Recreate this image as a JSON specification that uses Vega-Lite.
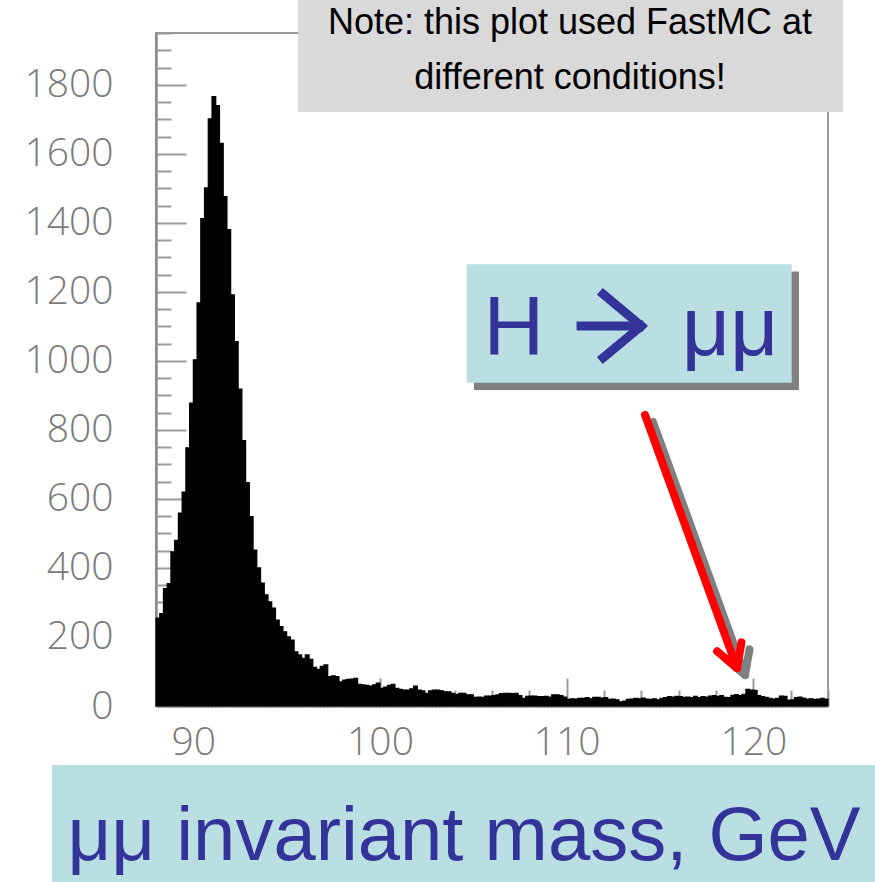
{
"$schema": "https://vega.github.io/schema/vega-lite/v6.json",
"autosize": "none",
"width": 672,
"height": 673,
"padding": {"left": 156, "top": 33, "right": 47, "bottom": 176},
"background": "white",
"config": {
  "view": {"stroke": "#9a9a9a", "strokeWidth": 2},
  "axis": {"domainColor": "#8a8a8a", "domainWidth": 2.5, "tickColor": "#9a9a9a", "tickWidth": 2, "labelColor": "#7a7a7a", "labelFont": "Open Sans", "labelFontWeight": 300, "labelFontSize": 39, "grid": false, "labelFlush": false, "labelOverlap": false, "zindex": 1, "format": "d"}
},
"data": {"values": [
{"lo":88.0,"hi":88.2,"n":255},{"lo":88.2,"hi":88.4,"n":268},{"lo":88.4,"hi":88.6,"n":340},{"lo":88.6,"hi":88.8,"n":355},{"lo":88.8,"hi":89.0,"n":447},{"lo":89.0,"hi":89.2,"n":480},{"lo":89.2,"hi":89.4,"n":559},{"lo":89.4,"hi":89.6,"n":620},{"lo":89.6,"hi":89.8,"n":748},{"lo":89.8,"hi":90.0,"n":878},
{"lo":90.0,"hi":90.2,"n":1003},{"lo":90.2,"hi":90.4,"n":1168},{"lo":90.4,"hi":90.6,"n":1412},{"lo":90.6,"hi":90.8,"n":1501},{"lo":90.8,"hi":91.0,"n":1701},{"lo":91.0,"hi":91.2,"n":1766},{"lo":91.2,"hi":91.4,"n":1740},{"lo":91.4,"hi":91.6,"n":1630},{"lo":91.6,"hi":91.8,"n":1476},{"lo":91.8,"hi":92.0,"n":1380},
{"lo":92.0,"hi":92.2,"n":1191},{"lo":92.2,"hi":92.4,"n":1056},{"lo":92.4,"hi":92.6,"n":918},{"lo":92.6,"hi":92.8,"n":769},{"lo":92.8,"hi":93.0,"n":647},{"lo":93.0,"hi":93.2,"n":549},{"lo":93.2,"hi":93.4,"n":452},{"lo":93.4,"hi":93.6,"n":400},{"lo":93.6,"hi":93.8,"n":356},{"lo":93.8,"hi":94.0,"n":322},
{"lo":94.0,"hi":94.2,"n":302},{"lo":94.2,"hi":94.4,"n":284},{"lo":94.4,"hi":94.6,"n":249},{"lo":94.6,"hi":94.8,"n":230},{"lo":94.8,"hi":95.0,"n":215},{"lo":95.0,"hi":95.2,"n":200},{"lo":95.2,"hi":95.4,"n":191},{"lo":95.4,"hi":95.6,"n":157},{"lo":95.6,"hi":95.8,"n":148},{"lo":95.8,"hi":96.0,"n":138},
{"lo":96.0,"hi":96.2,"n":148},{"lo":96.2,"hi":96.4,"n":135},{"lo":96.4,"hi":96.6,"n":112},{"lo":96.6,"hi":96.8,"n":106},{"lo":96.8,"hi":97.0,"n":115},{"lo":97.0,"hi":97.2,"n":119},{"lo":97.2,"hi":97.4,"n":85},{"lo":97.4,"hi":97.6,"n":87},{"lo":97.6,"hi":97.8,"n":85},{"lo":97.8,"hi":98.0,"n":70},
{"lo":98.0,"hi":98.2,"n":75},{"lo":98.2,"hi":98.4,"n":77},{"lo":98.4,"hi":98.6,"n":78},{"lo":98.6,"hi":98.8,"n":80},{"lo":98.8,"hi":99.0,"n":63},{"lo":99.0,"hi":99.2,"n":61},{"lo":99.2,"hi":99.4,"n":60},{"lo":99.4,"hi":99.6,"n":58},{"lo":99.6,"hi":99.8,"n":61},{"lo":99.8,"hi":100.0,"n":66},
{"lo":100.0,"hi":100.2,"n":51},{"lo":100.2,"hi":100.4,"n":55},{"lo":100.4,"hi":100.6,"n":60},{"lo":100.6,"hi":100.8,"n":63},{"lo":100.8,"hi":101.0,"n":51},{"lo":101.0,"hi":101.2,"n":48},{"lo":101.2,"hi":101.4,"n":46},{"lo":101.4,"hi":101.6,"n":46},{"lo":101.6,"hi":101.8,"n":50},{"lo":101.8,"hi":102.0,"n":58},
{"lo":102.0,"hi":102.2,"n":46},{"lo":102.2,"hi":102.4,"n":44},{"lo":102.4,"hi":102.6,"n":37},{"lo":102.6,"hi":102.8,"n":44},{"lo":102.8,"hi":103.0,"n":46},{"lo":103.0,"hi":103.2,"n":46},{"lo":103.2,"hi":103.4,"n":44},{"lo":103.4,"hi":103.6,"n":41},{"lo":103.6,"hi":103.8,"n":41},{"lo":103.8,"hi":104.0,"n":37},
{"lo":104.0,"hi":104.2,"n":33},{"lo":104.2,"hi":104.4,"n":37},{"lo":104.4,"hi":104.6,"n":37},{"lo":104.6,"hi":104.8,"n":32},{"lo":104.8,"hi":105.0,"n":32},{"lo":105.0,"hi":105.2,"n":25},{"lo":105.2,"hi":105.4,"n":26},{"lo":105.4,"hi":105.6,"n":25},{"lo":105.6,"hi":105.8,"n":29},{"lo":105.8,"hi":106.0,"n":29},
{"lo":106.0,"hi":106.2,"n":30},{"lo":106.2,"hi":106.4,"n":32},{"lo":106.4,"hi":106.6,"n":36},{"lo":106.6,"hi":106.8,"n":37},{"lo":106.8,"hi":107.0,"n":37},{"lo":107.0,"hi":107.2,"n":36},{"lo":107.2,"hi":107.4,"n":37},{"lo":107.4,"hi":107.6,"n":30},{"lo":107.6,"hi":107.8,"n":22},{"lo":107.8,"hi":108.0,"n":28},
{"lo":108.0,"hi":108.2,"n":29},{"lo":108.2,"hi":108.4,"n":29},{"lo":108.4,"hi":108.6,"n":27},{"lo":108.6,"hi":108.8,"n":27},{"lo":108.8,"hi":109.0,"n":28},{"lo":109.0,"hi":109.2,"n":26},{"lo":109.2,"hi":109.4,"n":32},{"lo":109.4,"hi":109.6,"n":32},{"lo":109.6,"hi":109.8,"n":30},{"lo":109.8,"hi":110.0,"n":26},
{"lo":110.0,"hi":110.2,"n":19},{"lo":110.2,"hi":110.4,"n":21},{"lo":110.4,"hi":110.6,"n":20},{"lo":110.6,"hi":110.8,"n":22},{"lo":110.8,"hi":111.0,"n":22},{"lo":111.0,"hi":111.2,"n":24},{"lo":111.2,"hi":111.4,"n":21},{"lo":111.4,"hi":111.6,"n":25},{"lo":111.6,"hi":111.8,"n":25},{"lo":111.8,"hi":112.0,"n":23},
{"lo":112.0,"hi":112.2,"n":24},{"lo":112.2,"hi":112.4,"n":19},{"lo":112.4,"hi":112.6,"n":20},{"lo":112.6,"hi":112.8,"n":18},{"lo":112.8,"hi":113.0,"n":12},{"lo":113.0,"hi":113.2,"n":14},{"lo":113.2,"hi":113.4,"n":19},{"lo":113.4,"hi":113.6,"n":20},{"lo":113.6,"hi":113.8,"n":22},{"lo":113.8,"hi":114.0,"n":21},
{"lo":114.0,"hi":114.2,"n":23},{"lo":114.2,"hi":114.4,"n":20},{"lo":114.4,"hi":114.6,"n":19},{"lo":114.6,"hi":114.8,"n":21},{"lo":114.8,"hi":115.0,"n":18},{"lo":115.0,"hi":115.2,"n":22},{"lo":115.2,"hi":115.4,"n":24},{"lo":115.4,"hi":115.6,"n":27},{"lo":115.6,"hi":115.8,"n":26},{"lo":115.8,"hi":116.0,"n":28},
{"lo":116.0,"hi":116.2,"n":27},{"lo":116.2,"hi":116.4,"n":25},{"lo":116.4,"hi":116.6,"n":26},{"lo":116.6,"hi":116.8,"n":24},{"lo":116.8,"hi":117.0,"n":28},{"lo":117.0,"hi":117.2,"n":24},{"lo":117.2,"hi":117.4,"n":27},{"lo":117.4,"hi":117.6,"n":26},{"lo":117.6,"hi":117.8,"n":29},{"lo":117.8,"hi":118.0,"n":30},
{"lo":118.0,"hi":118.2,"n":28},{"lo":118.2,"hi":118.4,"n":30},{"lo":118.4,"hi":118.6,"n":25},{"lo":118.6,"hi":118.8,"n":24},{"lo":118.8,"hi":119.0,"n":31},{"lo":119.0,"hi":119.2,"n":33},{"lo":119.2,"hi":119.4,"n":30},{"lo":119.4,"hi":119.6,"n":34},{"lo":119.6,"hi":119.8,"n":48},{"lo":119.8,"hi":120.0,"n":46},
{"lo":120.0,"hi":120.2,"n":45},{"lo":120.2,"hi":120.4,"n":30},{"lo":120.4,"hi":120.6,"n":27},{"lo":120.6,"hi":120.8,"n":25},{"lo":120.8,"hi":121.0,"n":22},{"lo":121.0,"hi":121.2,"n":20},{"lo":121.2,"hi":121.4,"n":22},{"lo":121.4,"hi":121.6,"n":29},{"lo":121.6,"hi":121.8,"n":28},{"lo":121.8,"hi":122.0,"n":17},
{"lo":122.0,"hi":122.2,"n":18},{"lo":122.2,"hi":122.4,"n":24},{"lo":122.4,"hi":122.6,"n":26},{"lo":122.6,"hi":122.8,"n":23},{"lo":122.8,"hi":123.0,"n":20},{"lo":123.0,"hi":123.2,"n":21},{"lo":123.2,"hi":123.4,"n":19},{"lo":123.4,"hi":123.6,"n":20},{"lo":123.6,"hi":123.8,"n":22},{"lo":123.8,"hi":124.0,"n":20}
]},
"resolve": {"axis": {"x": "independent", "y": "independent"}},
"layer": [
  {
    "mark": {"type": "bar", "color": "black", "stroke": "black", "strokeWidth": 1.2},
    "encoding": {
      "x": {"field": "lo", "type": "quantitative", "scale": {"domain": [88, 124], "nice": false, "zero": false},
            "axis": {"orient": "bottom", "title": null, "values": [90, 100, 110, 120], "tickSize": -28, "labelPadding": 45}},
      "x2": {"field": "hi"},
      "y": {"field": "n", "type": "quantitative", "scale": {"domain": [0, 1950], "nice": false, "zero": true},
            "axis": {"orient": "left", "title": null, "values": [0, 200, 400, 600, 800, 1000, 1200, 1400, 1600, 1800], "tickSize": -30, "labelPadding": 73}},
      "y2": {"datum": 0}
    }
  },
  {
    "mark": {"type": "bar", "opacity": 0},
    "encoding": {
      "x": {"field": "lo", "type": "quantitative", "scale": {"domain": [88, 124], "nice": false, "zero": false},
            "axis": {"orient": "bottom", "title": null, "labels": false, "domain": false, "values": [88, 92, 94, 96, 98, 102, 104, 106, 108, 112, 114, 116, 118, 122, 124], "tickSize": -16}},
      "x2": {"field": "hi"},
      "y": {"field": "n", "type": "quantitative", "scale": {"domain": [0, 1950], "nice": false, "zero": true},
            "axis": {"orient": "left", "title": null, "labels": false, "domain": false, "values": [50, 100, 150, 250, 300, 350, 450, 500, 550, 650, 700, 750, 850, 900, 950, 1050, 1100, 1150, 1250, 1300, 1350, 1450, 1500, 1550, 1650, 1700, 1750, 1850, 1900, 1950], "tickSize": -15}},
      "y2": {"datum": 0}
    }
  },
  {
    "data": {"values": [{}]},
    "mark": {"type": "rect", "color": "#d9d9d9"},
    "encoding": {
      "x": {"datum": 95.61, "type": "quantitative", "axis": null}, "x2": {"datum": 124.8},
      "y": {"datum": 2050, "type": "quantitative", "axis": null}, "y2": {"datum": 1721}
    }
  },
  {
    "data": {"values": [{}]},
    "mark": {"type": "text", "text": ["Note: this plot used FastMC at", "different conditions!"], "font": "Liberation Sans", "fontSize": 36, "color": "black", "align": "center", "baseline": "alphabetic", "lineHeight": 55},
    "encoding": {
      "x": {"datum": 110.18, "type": "quantitative", "axis": null},
      "y": {"datum": 1946, "type": "quantitative", "axis": null}
    }
  },
  {
    "data": {"values": [{}]},
    "mark": {"type": "rect", "color": "#808080"},
    "encoding": {
      "x": {"datum": 105.036, "type": "quantitative", "axis": null}, "x2": {"datum": 122.446},
      "y": {"datum": 1258.7, "type": "quantitative", "axis": null}, "y2": {"datum": 915.6}
    }
  },
  {
    "data": {"values": [{}]},
    "mark": {"type": "rect", "color": "#b9dfe2"},
    "encoding": {
      "x": {"datum": 104.645, "type": "quantitative", "axis": null}, "x2": {"datum": 122.055},
      "y": {"datum": 1279.8, "type": "quantitative", "axis": null}, "y2": {"datum": 936.8}
    }
  },
  {
    "data": {"values": [{}]},
    "mark": {"type": "text", "text": "H", "font": "Liberation Sans", "fontSize": 84, "color": "#333399", "align": "left", "baseline": "alphabetic"},
    "encoding": {
      "x": {"datum": 105.55, "type": "quantitative", "axis": null},
      "y": {"datum": 1017, "type": "quantitative", "axis": null}
    }
  },
  {
    "data": {"values": [{}]},
    "mark": {"type": "text", "text": "μμ", "font": "Liberation Sans", "fontSize": 84, "color": "#333399", "align": "left", "baseline": "alphabetic"},
    "encoding": {
      "x": {"datum": 116.16, "type": "quantitative", "axis": null},
      "y": {"datum": 1017, "type": "quantitative", "axis": null}
    }
  },
  {
    "data": {"values": [{}]},
    "mark": {"type": "rule", "color": "#333399", "strokeWidth": 9, "strokeCap": "butt"},
    "encoding": {
      "x": {"datum": 110.53, "type": "quantitative", "axis": null}, "x2": {"datum": 113.85},
      "y": {"datum": 1101, "type": "quantitative", "axis": null}, "y2": {"datum": 1101}
    }
  },
  {
    "data": {"values": [{}]},
    "mark": {"type": "rule", "color": "#333399", "strokeWidth": 9, "strokeCap": "square"},
    "encoding": {
      "x": {"datum": 111.96, "type": "quantitative", "axis": null}, "x2": {"datum": 114.0},
      "y": {"datum": 1192.9, "type": "quantitative", "axis": null}, "y2": {"datum": 1101}
    }
  },
  {
    "data": {"values": [{}]},
    "mark": {"type": "rule", "color": "#333399", "strokeWidth": 9, "strokeCap": "square"},
    "encoding": {
      "x": {"datum": 111.96, "type": "quantitative", "axis": null}, "x2": {"datum": 114.0},
      "y": {"datum": 1009.2, "type": "quantitative", "axis": null}, "y2": {"datum": 1101}
    }
  },
  {
    "data": {"values": [{}]},
    "mark": {"type": "rect", "color": "#b9dfe2"},
    "encoding": {
      "x": {"datum": 82.43, "type": "quantitative", "axis": null}, "x2": {"datum": 127},
      "y": {"datum": -171, "type": "quantitative", "axis": null}, "y2": {"datum": -530}
    }
  },
  {
    "data": {"values": [{}]},
    "mark": {"type": "text", "text": "μμ invariant mass, GeV", "font": "Liberation Sans", "fontSize": 76, "color": "#333399", "align": "center", "baseline": "alphabetic"},
    "encoding": {
      "x": {"datum": 104.5, "type": "quantitative", "axis": null},
      "y": {"datum": -446, "type": "quantitative", "axis": null}
    }
  },
  {
    "data": {"values": [{}]},
    "mark": {"type": "rule", "color": "#808080", "strokeWidth": 8, "strokeCap": "round"},
    "encoding": {
      "x": {"datum": 114.625, "type": "quantitative", "axis": null}, "x2": {"datum": 119.554},
      "y": {"datum": 822.9, "type": "quantitative", "axis": null}, "y2": {"datum": 89.8}
    }
  },
  {
    "data": {"values": [{}]},
    "mark": {"type": "rule", "color": "#808080", "strokeWidth": 8, "strokeCap": "round"},
    "encoding": {
      "x": {"datum": 119.795, "type": "quantitative", "axis": null}, "x2": {"datum": 119.554},
      "y": {"datum": 164.0, "type": "quantitative", "axis": null}, "y2": {"datum": 89.8}
    }
  },
  {
    "data": {"values": [{}]},
    "mark": {"type": "rule", "color": "#808080", "strokeWidth": 8, "strokeCap": "round"},
    "encoding": {
      "x": {"datum": 118.488, "type": "quantitative", "axis": null}, "x2": {"datum": 119.554},
      "y": {"datum": 138.2, "type": "quantitative", "axis": null}, "y2": {"datum": 89.8}
    }
  },
  {
    "data": {"values": [{}]},
    "mark": {"type": "rule", "color": "#ff0000", "strokeWidth": 8, "strokeCap": "round"},
    "encoding": {
      "x": {"datum": 114.196, "type": "quantitative", "axis": null}, "x2": {"datum": 119.125},
      "y": {"datum": 843.2, "type": "quantitative", "axis": null}, "y2": {"datum": 110.1}
    }
  },
  {
    "data": {"values": [{}]},
    "mark": {"type": "rule", "color": "#ff0000", "strokeWidth": 8, "strokeCap": "round"},
    "encoding": {
      "x": {"datum": 119.366, "type": "quantitative", "axis": null}, "x2": {"datum": 119.125},
      "y": {"datum": 184.3, "type": "quantitative", "axis": null}, "y2": {"datum": 110.1}
    }
  },
  {
    "data": {"values": [{}]},
    "mark": {"type": "rule", "color": "#ff0000", "strokeWidth": 8, "strokeCap": "round"},
    "encoding": {
      "x": {"datum": 118.059, "type": "quantitative", "axis": null}, "x2": {"datum": 119.125},
      "y": {"datum": 158.5, "type": "quantitative", "axis": null}, "y2": {"datum": 110.1}
    }
  }
]
}
